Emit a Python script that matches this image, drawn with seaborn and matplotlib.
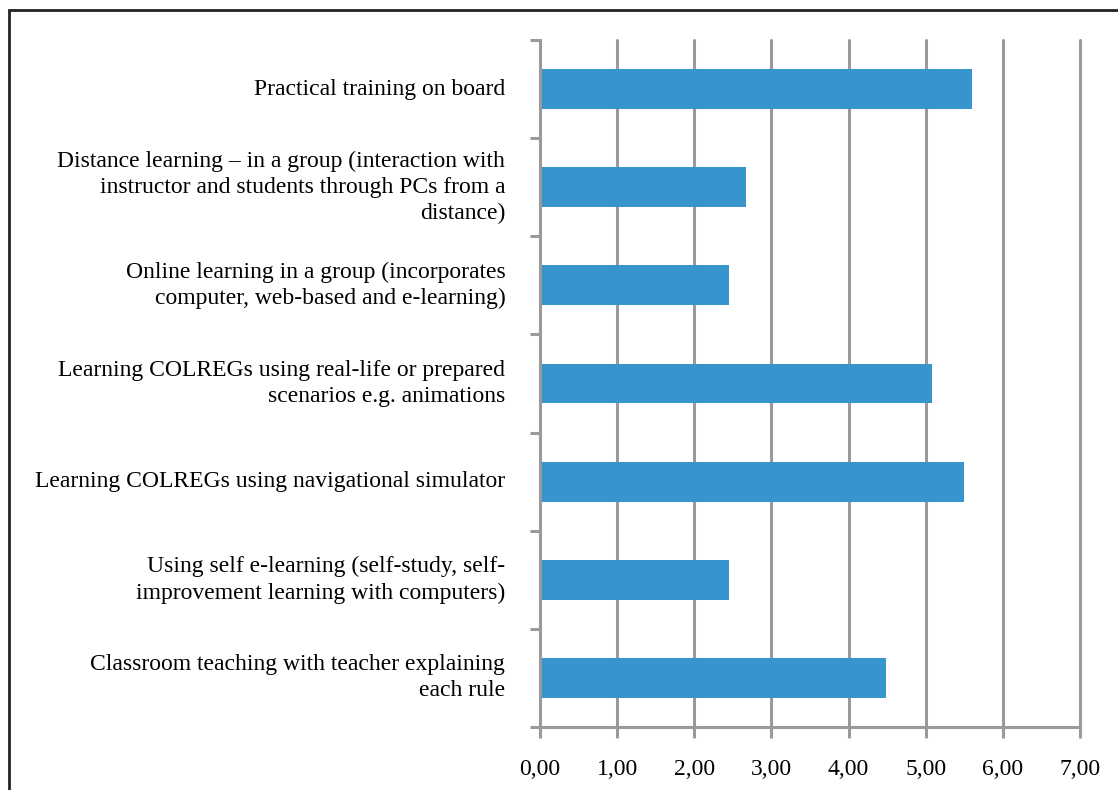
import matplotlib
matplotlib.use("Agg")
import matplotlib.pyplot as plt
import seaborn as sns
import pandas as pd
import numpy as np
from matplotlib.patches import Rectangle

categories = [
    "Practical training on board",
    "Distance learning \u2013 in a group (interaction with\ninstructor and students through PCs from a\ndistance)",
    "Online learning in a group (incorporates\ncomputer, web-based and e-learning)",
    "Learning COLREGs using real-life or prepared\nscenarios e.g. animations",
    "Learning COLREGs using navigational simulator",
    "Using self e-learning (self-study, self-\nimprovement learning with computers)",
    "Classroom teaching with teacher explaining\neach rule",
]
values = [5.60, 2.67, 2.45, 5.08, 5.49, 2.45, 4.49]
xticks = [0, 1, 2, 3, 4, 5, 6, 7]
xticklabels = ["0,00", "1,00", "2,00", "3,00", "4,00", "5,00", "6,00", "7,00"]

sns.set_theme(style="white")
plt.rcParams['font.family'] = ['Liberation Serif', 'DejaVu Serif']

df = pd.DataFrame({"cat": categories, "val": values})

fig = plt.figure(figsize=(11.18, 7.90), dpi=100)
ax = fig.add_axes([540/1118, 1-727/790, 540/1118, 687/790])

grid_c = "#9a9a9a"
sns.barplot(data=df, x="val", y="cat", color="#3795CE", width=0.405,
            saturation=1, ax=ax, zorder=3, edgecolor="none")

ax.set_xlim(0, 7)
ax.set_ylim(6.5, -0.5)
ax.set_xticks(xticks)
ax.set_xticklabels(xticklabels, fontsize=17)
ax.set_yticks(range(len(categories)))
ax.set_yticklabels(categories, fontsize=17)
for t in ax.get_yticklabels():
    t.set_linespacing(1.32)
    t.set_verticalalignment("center")
ax.set_xlabel("")
ax.set_ylabel("")

for x in xticks[1:]:
    ax.axvline(x, color=grid_c, lw=2.2, zorder=1, clip_on=False)

for s in ["top", "right"]:
    ax.spines[s].set_visible(False)
for s in ["left", "bottom"]:
    ax.spines[s].set_color(grid_c)
    ax.spines[s].set_linewidth(2.2)
    ax.spines[s].set_zorder(4)

ax.tick_params(axis="y", which="major", length=0, pad=25, colors="black")
ax.set_yticks(np.arange(-0.5, 7, 1), minor=True)
ax.tick_params(axis="y", which="minor", length=7, width=2.2, color=grid_c, left=True)
ax.tick_params(axis="x", which="major", length=8, width=2.2, color=grid_c, pad=15,
               bottom=True, labelcolor="black")

fig.patches.append(Rectangle((9/1118, -0.1), 1.2, 1-10/790+0.1, transform=fig.transFigure,
                             fill=False, edgecolor="#222222", lw=2, figure=fig))

fig.savefig("out.png", dpi=100, facecolor="white")
